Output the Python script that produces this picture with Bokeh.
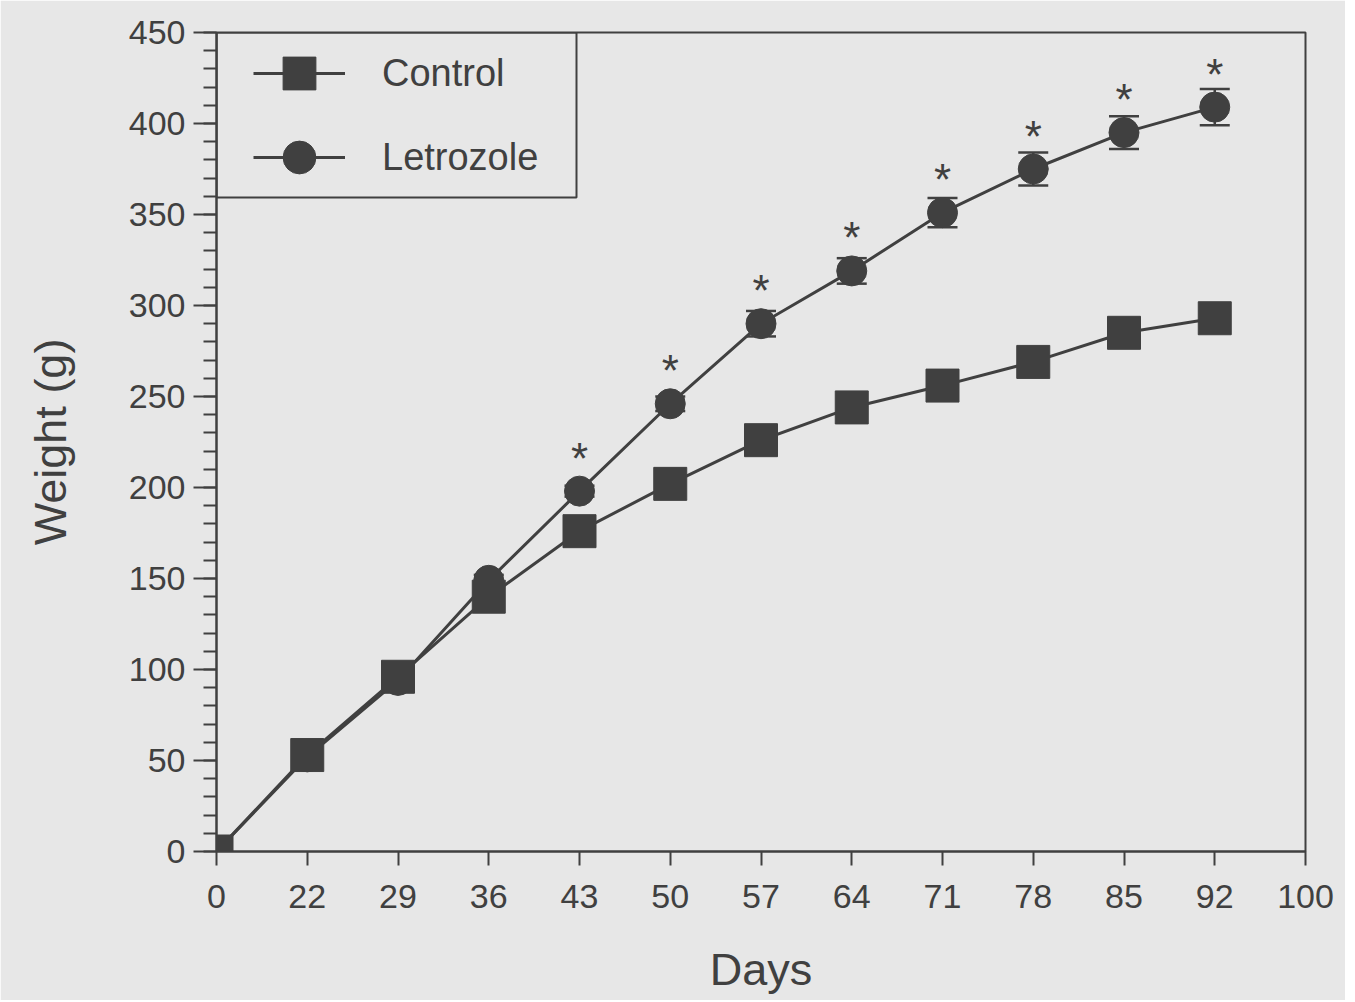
from bokeh.plotting import figure
from bokeh.models import (ColumnDataSource, Whisker, TeeHead, Legend, LegendItem, FixedTicker,
                          SingleIntervalTicker, BoxAnnotation, Node, Range1d)
from bokeh.core.properties import value
from bokeh.embed import file_html
from bokeh.resources import INLINE

# ---- data ----
tick_days = [0, 22, 29, 36, 43, 50, 57, 64, 71, 78, 85, 92, 100]
days = [0, 22, 29, 36, 43, 50, 57, 64, 71, 78, 85, 92]
control = [0, 53, 96, 140, 176, 202, 226, 244, 256, 269, 285, 293]
letrozole = [0, 52, 94, 149, 198, 246, 290, 319, 351, 375, 395, 409]
letrozole_sem = [0, 2, 3, 3, 3, 4, 7, 7, 8, 9, 9, 10]
significant = [False, False, False, False, True, True, True, True, True, True, True, True]
y_min, y_max, y_step = 0, 450, 50

FONT = "Liberation Sans"
INK = "#404040"
BG = "#e7e7e7"

xpos = [tick_days.index(d) for d in days]
x_last = len(tick_days) - 1

src_c = ColumnDataSource(dict(x=xpos, y=control))
src_l = ColumnDataSource(dict(
    x=xpos, y=letrozole,
    upper=[m + e for m, e in zip(letrozole, letrozole_sem)],
    lower=[m - e for m, e in zip(letrozole, letrozole_sem)],
    star=["*" if s else "" for s in significant],
))

p = figure(width=1345, height=1000, output_backend="svg", toolbar_location=None,
           x_range=Range1d(0, x_last), y_range=Range1d(y_min, y_max),
           min_border_left=216, min_border_right=40, min_border_top=32, min_border_bottom=149)

p.background_fill_color = BG
p.border_fill_color = BG
p.outline_line_color = INK
p.outline_line_width = 2
p.outline_line_alpha = 1
p.xgrid.visible = False
p.ygrid.visible = False

# error bars
whisk = Whisker(source=src_l, base="x", upper="upper", lower="lower",
                line_color=INK, line_width=2.5,
                upper_head=TeeHead(size=30, line_color=INK, line_width=2.5),
                lower_head=TeeHead(size=30, line_color=INK, line_width=2.5))
p.add_layout(whisk)

ll = p.line("x", "y", source=src_l, line_color=INK, line_width=3)
ls = p.scatter("x", "y", source=src_l, marker="circle", size=30, fill_color=INK, line_color=INK)
cl = p.line("x", "y", source=src_c, line_color=INK, line_width=3)
cs = p.scatter("x", "y", source=src_c, marker="square", size=33, fill_color=INK, line_color=INK)

p.text("x", "y", text="star", source=src_l, y_offset=-33, text_font=value(FONT), text_font_size="44px",
       text_align="center", text_baseline="alphabetic", text_color=INK)

# axes
p.xaxis.ticker = FixedTicker(ticks=list(range(len(tick_days))))
p.xaxis.major_label_overrides = {i: str(d) for i, d in enumerate(tick_days)}
p.yaxis.ticker = SingleIntervalTicker(interval=y_step, num_minor_ticks=5)

for ax in (p.xaxis[0], p.yaxis[0]):
    ax.axis_line_color = INK
    ax.axis_line_width = 2
    ax.major_tick_line_color = INK
    ax.major_tick_line_width = 2
    ax.minor_tick_line_color = INK
    ax.minor_tick_line_width = 2
    ax.major_tick_in = 0
    ax.minor_tick_in = 0
    ax.major_label_text_font = FONT
    ax.major_label_text_font_size = "34px"
    ax.major_label_text_color = INK
    ax.axis_label_text_font = FONT
    ax.axis_label_text_font_size = "45px"
    ax.axis_label_text_font_style = "normal"
    ax.axis_label_text_color = INK

p.xaxis.major_tick_out = 14
p.xaxis.minor_tick_out = 0
p.xaxis.minor_tick_line_color = None
p.xaxis.major_label_standoff = 19
p.xaxis.axis_label = "Days"
p.xaxis.axis_label_standoff = 33

p.yaxis.major_tick_out = 23
p.yaxis.minor_tick_out = 13
p.yaxis.major_label_standoff = 8
p.yaxis.axis_label = "Weight (g)"
p.yaxis.axis_label_standoff = 50

# legend box
box = BoxAnnotation(left=Node(target="frame", symbol="left"),
                    right=Node(target="frame", symbol="left", offset=360),
                    top=Node(target="frame", symbol="top"),
                    bottom=Node(target="frame", symbol="top", offset=165),
                    fill_alpha=0, line_color=INK, line_width=2, line_alpha=1, level="overlay")
p.add_layout(box)

legend = Legend(items=[LegendItem(label="Control", renderers=[cl, cs]),
                       LegendItem(label="Letrozole", renderers=[ll, ls])],
                location=(37, 653), padding=0, margin=0, spacing=2,
                glyph_width=92, glyph_height=82, label_height=82, label_standoff=37,
                label_text_font=FONT, label_text_font_size="38px", label_text_color=INK,
                border_line_alpha=0, background_fill_alpha=0)
p.add_layout(legend)

open("out.html", "w").write(file_html(p, INLINE))
